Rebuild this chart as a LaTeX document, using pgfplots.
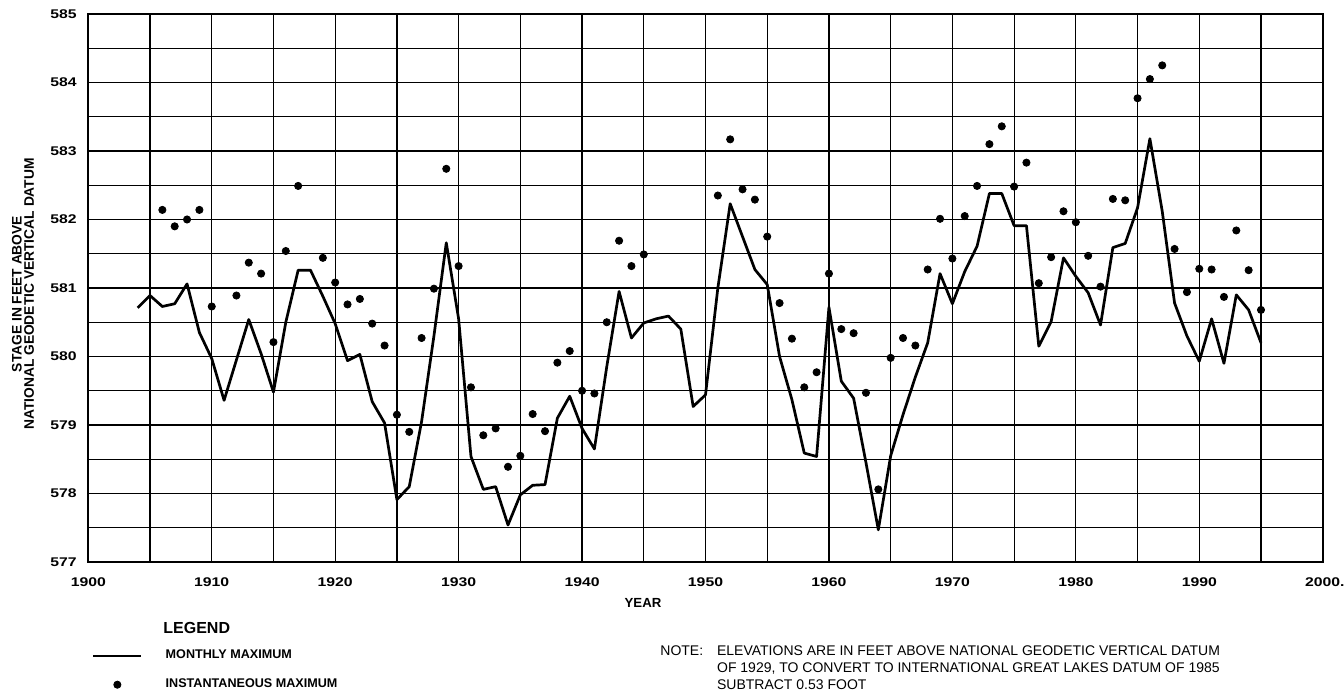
\documentclass[border=0pt]{standalone}
\usepackage{fontspec}
\setmainfont{Liberation Sans}
\newfontfamily\tickfont[FakeStretch=1.25]{Liberation Sans}
\usepackage{pgfplots}
\pgfplotsset{compat=1.18}
\usepackage{pgfplotstable}
\pgfplotsset{
  mylinelegend/.style={legend image code/.code={\path (0pt,0pt) (24pt,0pt); \draw[##1] (0pt,0pt) -- (24pt,0pt);}},
  mydotlegend/.style={legend image code/.code={\path (0pt,0pt) (24pt,0pt); \draw[##1] plot coordinates {(12pt,0pt)};}},
}

\pgfplotstableread{
year val
1904 580.71
1905 580.89
1906 580.73
1907 580.77
1908 581.06
1909 580.35
1910 579.97
1911 579.36
1912 579.95
1913 580.54
1914 580.04
1915 579.48
1916 580.50
1917 581.26
1918 581.26
1919 580.88
1920 580.48
1921 579.94
1922 580.03
1923 579.34
1924 579.03
1925 577.91
1926 578.10
1927 579.05
1928 580.30
1929 581.66
1930 580.55
1931 578.54
1932 578.06
1933 578.10
1934 577.54
1935 577.98
1936 578.12
1937 578.13
1938 579.10
1939 579.42
1940 578.95
1941 578.65
1942 579.85
1943 580.95
1944 580.27
1945 580.49
1946 580.55
1947 580.59
1948 580.40
1949 579.27
1950 579.44
1951 581.00
1952 582.23
1953 581.75
1954 581.27
1955 581.05
1956 580.00
1957 579.37
1958 578.59
1959 578.54
1960 580.72
1961 579.64
1962 579.39
1963 578.45
1964 577.47
1965 578.55
1966 579.15
1967 579.70
1968 580.20
1969 581.21
1970 580.77
1971 581.24
1972 581.61
1973 582.38
1974 582.38
1975 581.91
1976 581.91
1977 580.15
1978 580.51
1979 581.44
1980 581.17
1981 580.93
1982 580.46
1983 581.59
1984 581.65
1985 582.17
1986 583.18
1987 582.12
1988 580.78
1989 580.30
1990 579.93
1991 580.55
1992 579.90
1993 580.90
1994 580.68
1995 580.20
}\monthly

\pgfplotstableread{
year val
1906 582.14
1907 581.90
1908 582.00
1909 582.14
1910 580.73
1912 580.89
1913 581.37
1914 581.21
1915 580.21
1916 581.54
1917 582.49
1919 581.44
1920 581.08
1921 580.76
1922 580.84
1923 580.48
1924 580.16
1925 579.15
1926 578.90
1927 580.27
1928 580.99
1929 582.74
1930 581.32
1931 579.55
1932 578.85
1933 578.95
1934 578.39
1935 578.55
1936 579.16
1937 578.91
1938 579.91
1939 580.08
1940 579.50
1941 579.46
1942 580.50
1943 581.69
1944 581.32
1945 581.49
1951 582.35
1952 583.17
1953 582.44
1954 582.29
1955 581.75
1956 580.78
1957 580.26
1958 579.55
1959 579.77
1960 581.21
1961 580.40
1962 580.34
1963 579.47
1964 578.06
1965 579.98
1966 580.27
1967 580.16
1968 581.27
1969 582.01
1970 581.43
1971 582.05
1972 582.49
1973 583.10
1974 583.36
1975 582.48
1976 582.83
1977 581.07
1978 581.45
1979 582.12
1980 581.96
1981 581.47
1982 581.02
1983 582.30
1984 582.28
1985 583.77
1986 584.05
1987 584.25
1988 581.57
1989 580.94
1990 581.28
1991 581.27
1992 580.87
1993 581.84
1994 581.26
1995 580.68
}\inst

\begin{document}
\begin{tikzpicture}
\useasboundingbox (0pt,0pt) rectangle (672pt,345pt);
\begin{axis}[
  at={(44.15pt,64pt)}, anchor=south west,
  scale only axis, width=617.2pt, height=274pt,
  xmin=1900, xmax=2000, ymin=577, ymax=585,
  xtick={1900,1910,...,2000},
  xticklabels={1900,1910,1920,1930,1940,1950,1960,1970,1980,1990,2000\rlap{.}},
  minor xtick={1905,1915,...,1995},
  ytick={577,578,...,585},
  yticklabels={577,578,579,580,581,582,583,584,585},
  minor ytick={577.5,578.5,...,584.5},
  grid=both,
  major grid style={black, line width=0.6pt},
  minor grid style={black, line width=0.6pt},
  axis line style={black, line width=1.1pt},
  major tick length=0pt, minor tick length=0pt,
  tick style={draw=none},
  /pgf/number format/assume math mode=true,
  ticklabel style={font=\tickfont\bfseries\fontsize{6.3}{7}\selectfont, inner sep=0pt},
  xticklabel style={anchor=center, yshift=-10pt},
  yticklabel style={anchor=east, xshift=-5.6pt},
  legend style={draw=none, fill=none, inner sep=0pt, outer sep=0pt,
    at={(0.003,-0.1606)}, anchor=north west,
    row sep=8.5pt, column sep=11.5pt,
    font=\bfseries\fontsize{6.3}{7}\selectfont,
    nodes={inner sep=0pt}, cells={anchor=west}},
  legend cell align=left,
]
\addplot[black, line width=1.35pt, line join=round, mylinelegend]
  table[x=year,y=val]{\monthly};
\addlegendentry{MONTHLY MAXIMUM}
\addplot[only marks, mark=*, mark size=1.8pt, black, mydotlegend]
  table[x=year,y=val]{\inst};
\addlegendentry{INSTANTANEOUS MAXIMUM}
\end{axis}
% axis title and annotations
\node[font=\bfseries\fontsize{6.6}{7}\selectfont, inner sep=0pt] at (321.5pt,43.5pt) {YEAR};
\node[font=\bfseries\fontsize{6.9}{6}\selectfont, align=center, rotate=90, inner sep=0pt]
  at (11.5pt,198pt) {STAGE IN FEET ABOVE\\NATIONAL GEODETIC VERTICAL DATUM};
\node[font=\bfseries\fontsize{8}{9}\selectfont, anchor=west, inner sep=0pt] at (81.5pt,31.15pt) {LEGEND};
\node[font=\fontsize{7}{8.5}\selectfont, anchor=north west, inner sep=0pt] at (330pt,22.5pt) {NOTE:};
\node[font=\fontsize{7}{8.5}\selectfont, anchor=north west, align=left, inner sep=0pt] at (358.35pt,22.5pt)
  {ELEVATIONS ARE IN FEET ABOVE NATIONAL GEODETIC VERTICAL DATUM\\
   OF 1929, TO CONVERT TO INTERNATIONAL GREAT LAKES DATUM OF 1985\\
   SUBTRACT 0.53 FOOT};
\end{tikzpicture}
\end{document}
